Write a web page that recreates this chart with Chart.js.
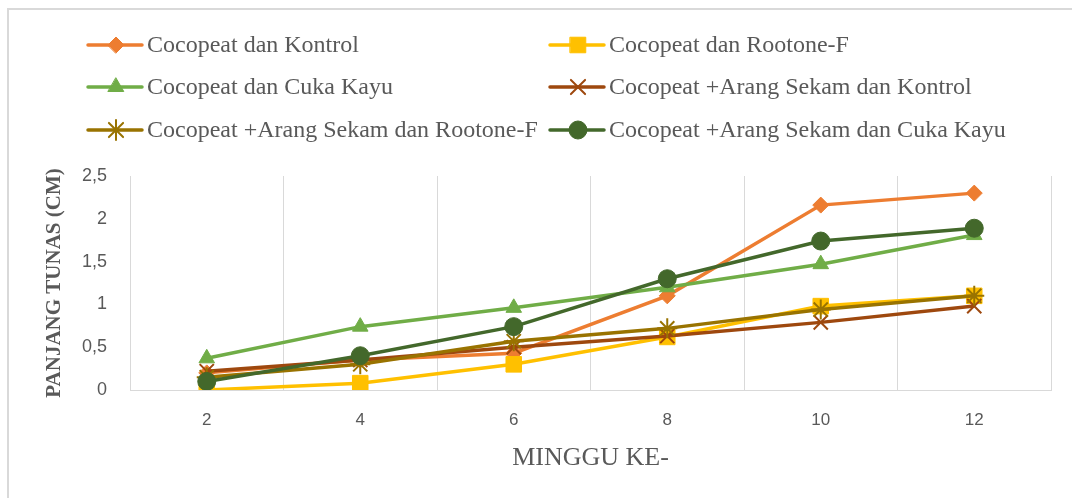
<!DOCTYPE html>
<html>
<head>
<meta charset="utf-8">
<script src="https://cdn.jsdelivr.net/npm/chart.js@4.4.1/dist/chart.umd.min.js"></script>
<style>
html, body { margin: 0; padding: 0; background: #fff; }
#wrap { position: relative; width: 1072px; height: 498px; overflow: hidden; }
#frame { position: absolute; left: 7px; top: 8px; width: 1100px; height: 600px;
  border-left: 2px solid #d9d9d9; border-top: 2px solid #d9d9d9; }
canvas { position: absolute; left: 0; top: 0; }
</style>
</head>
<body>
<div id="wrap">
  <div id="frame"></div>
  <canvas id="chart" width="1072" height="498"></canvas>
</div>
<script>
var weeks = ['2', '4', '6', '8', '10', '12'];
var yTicks = [0, 0.5, 1, 1.5, 2, 2.5];

var seriesNames = [
    'Cocopeat dan Kontrol',
    'Cocopeat dan Rootone-F',
    'Cocopeat dan Cuka Kayu',
    'Cocopeat +Arang Sekam dan Kontrol',
    'Cocopeat +Arang Sekam dan Rootone-F',
    'Cocopeat +Arang Sekam dan Cuka Kayu'
];
var kontrol        = [0.20, 0.35, 0.43, 1.10, 2.16, 2.30];
var rootone        = [0.00, 0.08, 0.30, 0.62, 0.98, 1.10];
var cukaKayu       = [0.37, 0.74, 0.96, 1.20, 1.47, 1.81];
var arangKontrol   = [0.22, 0.35, 0.50, 0.63, 0.79, 0.98];
var arangRootone   = [0.15, 0.30, 0.57, 0.72, 0.94, 1.10];
var arangCukaKayu  = [0.10, 0.40, 0.74, 1.30, 1.74, 1.89];

var seriesData = [kontrol, rootone, cukaKayu, arangKontrol, arangRootone, arangCukaKayu];
var colors = ['#ED7D31', '#FFC000', '#70AD47', '#9E480E', '#997300', '#43682B'];
var markers = ['rectRot', 'rect', 'triangle', 'crossRot', 'star', 'circle'];
var markerSize = [8, 11, 9, 10, 10, 9];

var textColor = '#595959';
var gridColor = '#d9d9d9';
var serif = "'Liberation Serif', 'Times New Roman', serif";
var narrow = "'Liberation Sans Narrow', 'Liberation Sans', sans-serif";

var datasets = seriesData.map(function (vals, i) {
    var open = markers[i] === 'crossRot' || markers[i] === 'star';
    return {
        label: seriesNames[i],
        data: vals,
        borderColor: colors[i],
        backgroundColor: colors[i],
        borderWidth: 3.5,
        pointStyle: markers[i],
        pointRadius: markerSize[i],
        pointHoverRadius: markerSize[i],
        pointBorderWidth: open ? 2 : 1,
        pointBackgroundColor: colors[i],
        pointBorderColor: colors[i],
        tension: 0,
        fill: false,
        order: seriesData.length - 1 - i
    };
});

// legend in two columns like the Excel one
var legendCols = [88, 550];
var legendRows = [45, 87, 130];

var legendPlugin = {
    id: 'twoColLegend',
    afterDraw: function (chart) {
        var ctx = chart.ctx;
        ctx.save();
        datasets.forEach(function (ds, i) {
            var x = legendCols[i % 2];
            var y = legendRows[Math.floor(i / 2)];
            ctx.strokeStyle = ds.borderColor;
            ctx.fillStyle = ds.borderColor;
            ctx.lineWidth = 3.5;
            ctx.lineCap = 'round';
            ctx.beginPath();
            ctx.moveTo(x, y);
            ctx.lineTo(x + 54, y);
            ctx.stroke();
            ctx.lineWidth = ds.pointBorderWidth;
            Chart.helpers.drawPoint(ctx, {
                pointStyle: ds.pointStyle,
                radius: ds.pointRadius,
                borderWidth: ds.pointBorderWidth,
                rotation: 0
            }, x + 28, y);
            ctx.fillStyle = textColor;
            ctx.font = '24px ' + serif;
            ctx.textBaseline = 'middle';
            ctx.textAlign = 'left';
            ctx.fillText(ds.label, x + 59, y + 1);
        });
        ctx.restore();
    }
};

new Chart(document.getElementById('chart'), {
    type: 'line',
    data: { labels: weeks, datasets: datasets },
    plugins: [legendPlugin],
    options: {
        responsive: false,
        devicePixelRatio: 1,
        animation: false,
        layout: { padding: { left: 0, top: 176, right: 21, bottom: 0 } },
        plugins: {
            legend: { display: false },
            tooltip: { enabled: false }
        },
        scales: {
            x: {
                type: 'category',
                offset: true,
                grid: { offset: true, color: gridColor, lineWidth: 1, drawTicks: false },
                border: { color: gridColor, width: 1 },
                ticks: { color: textColor, font: { family: narrow, size: 17 }, padding: 20 },
                title: {
                    display: true,
                    text: 'MINGGU KE-',
                    color: textColor,
                    font: { family: serif, size: 26 },
                    padding: { top: 0, bottom: 24 }
                },
                afterFit: function (scale) { scale.height = 108; }
            },
            y: {
                min: 0,
                max: 2.5,
                afterBuildTicks: function (scale) {
                    scale.ticks = yTicks.map(function (v) { return { value: v }; });
                },
                grid: { display: false, drawTicks: false },
                border: { display: false },
                ticks: {
                    color: textColor,
                    font: { family: narrow, size: 18 },
                    padding: 23,
                    callback: function (v) { return String(v).replace('.', ','); }
                },
                title: {
                    display: true,
                    text: 'PANJANG TUNAS (CM)',
                    color: textColor,
                    font: { family: serif, size: 21, weight: 'bold' },
                    padding: { top: 42, bottom: 0 }
                },
                afterFit: function (scale) { scale.width = 130; }
            }
        }
    }
});
</script>
</body>
</html>
